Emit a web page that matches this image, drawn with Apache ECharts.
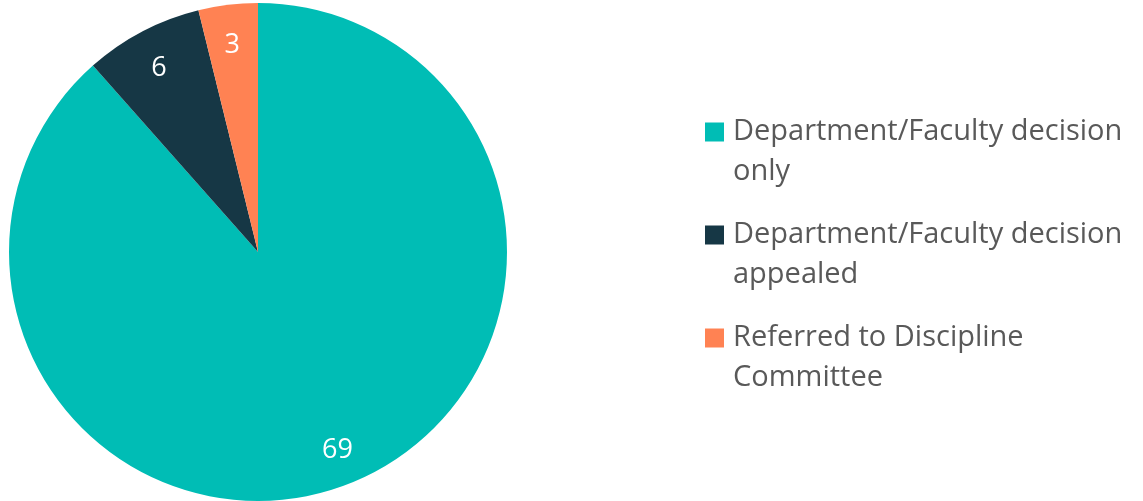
<!DOCTYPE html>
<html>
<head>
<meta charset="utf-8">
<style>
  html, body { margin: 0; padding: 0; background: #ffffff; }
  #chart { width: 1143px; height: 501px; }
</style>
<script src="https://cdn.jsdelivr.net/npm/echarts@6/dist/echarts.min.js"></script>
</head>
<body>
<div id="chart"></div>
<script>
// Outcome categories and case counts
const categories = [
  'Department/Faculty decision only',
  'Department/Faculty decision appealed',
  'Referred to Discipline Committee'
];
const counts = [69, 6, 3];
// Legend text broken onto two lines
const legendLines = {
  'Department/Faculty decision only': 'Department/Faculty decision\nonly',
  'Department/Faculty decision appealed': 'Department/Faculty decision\nappealed',
  'Referred to Discipline Committee': 'Referred to Discipline\nCommittee'
};
const colors = ['#00BDB5', '#163745', '#FF8253'];

const FONT = '"Open Sans", "Noto Sans", sans-serif';
const data = categories.map((name, i) => ({ name, value: counts[i] }));

const chart = echarts.init(document.getElementById('chart'), null, { renderer: 'canvas' });
chart.setOption({
  animation: false,
  color: colors,
  legend: {
    orient: 'vertical',
    left: 705,
    top: 72,
    padding: 0,
    itemGap: -17,
    itemWidth: 19,
    itemHeight: 19,
    icon: 'rect',
    selectedMode: false,
    data: categories,
    // leading blank line keeps the swatch level with the first text line
    formatter: name => '{g|}\n{t|' + legendLines[name].split('\n').join('}\n{t|') + '}',
    textStyle: {
      color: '#595959',
      fontFamily: FONT,
      fontSize: 29,
      lineHeight: 40,
      rich: {
        g: { height: 40, lineHeight: 40 },
        t: { color: '#595959', fontFamily: FONT, fontSize: 29, lineHeight: 40, padding: [0, 0, 0, 4] }
      }
    }
  },
  series: [
    {
      // the pie itself
      type: 'pie',
      center: [258, 252],
      radius: [0, 249],
      startAngle: 90,
      clockwise: true,
      silent: true,
      label: { show: false },
      labelLine: { show: false },
      itemStyle: { borderWidth: 0 },
      data: data
    },
    {
      // value labels placed in the outer band of each slice
      type: 'pie',
      center: [258, 252],
      radius: [171, 249],
      startAngle: 90,
      clockwise: true,
      silent: true,
      itemStyle: { color: 'rgba(0,0,0,0)', borderWidth: 0 },
      label: {
        show: true,
        position: 'inside',
        formatter: '{c}',
        color: '#ffffff',
        fontFamily: FONT,
        fontSize: 27
      },
      // nudge the digits so their visible glyphs sit centred in the band
      labelLayout: params => (params.dataIndex === 0 ? { dx: 4, dy: -1 } : { dy: 5 }),
      labelLine: { show: false },
      data: data
    }
  ]
});
</script>
</body>
</html>
